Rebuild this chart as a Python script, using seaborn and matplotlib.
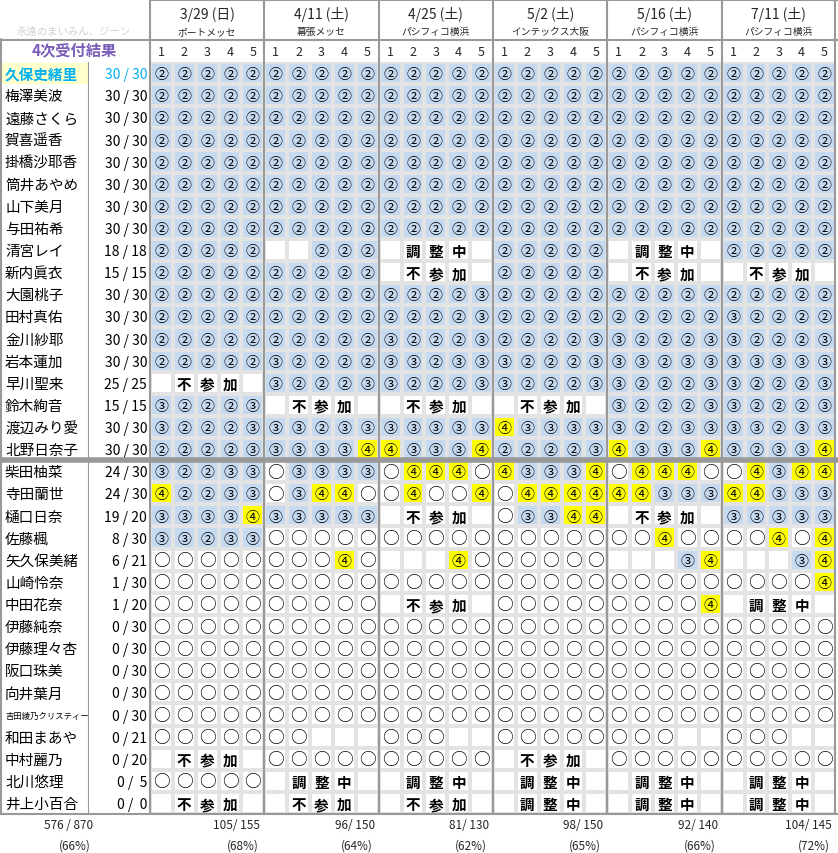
import matplotlib
matplotlib.use("Agg")
import matplotlib.pyplot as plt
import seaborn as sns
import numpy as np
from matplotlib.colors import ListedColormap
from matplotlib.lines import Line2D

sns.set_theme(style="white")
plt.rcParams['font.family'] = ['Noto Sans CJK JP', 'DejaVu Sans']

dates = ["3/29 (日)", "4/11 (土)", "4/25 (土)", "5/2 (土)", "5/16 (土)", "7/11 (土)"]
venues = ["ポートメッセ", "幕張メッセ", "パシフィコ横浜", "インテックス大阪", "パシフィコ横浜", "パシフィコ横浜"]
names = ["久保史緒里", "梅澤美波", "遠藤さくら", "賀喜遥香", "掛橋沙耶香", "筒井あやめ", "山下美月", "与田祐希",
         "清宮レイ", "新内眞衣", "大園桃子", "田村真佑", "金川紗耶", "岩本蓮加", "早川聖来", "鈴木絢音",
         "渡辺みり愛", "北野日奈子", "柴田柚菜", "寺田蘭世", "樋口日奈", "佐藤楓", "矢久保美緒", "山崎怜奈",
         "中田花奈", "伊藤純奈", "伊藤理々杏", "阪口珠美", "向井葉月", "吉田綾乃クリスティー", "和田まあや",
         "中村麗乃", "北川悠理", "井上小百合"]
counts = ["30 / 30"] * 8 + ["18 / 18", "15 / 15"] + ["30 / 30"] * 4 + ["25 / 25", "15 / 15", "30 / 30", "30 / 30",
          "24 / 30", "24 / 30", "19 / 20", "8 / 30", "6 / 21", "1 / 30", "1 / 20",
          "0 / 30", "0 / 30", "0 / 30", "0 / 30", "0 / 30", "0 / 21", "0 / 20", "0 /  5", "0 /  0"]
rows = ["222222222222222222222222222222"] * 8 + [
    "22222..222.DEF.22222.DEF.22222",
    "2222222222.ABC.22222.ABC..ABC.",
    "222222222222223222222222222222",
    "222222222222223222222222232222",
    "222222222232223222233222332223",
    "222223222233233322233323333333",
    ".ABC.32223322233222332223 32223".replace(" ", ""),
    "32223.ABC..ABC..ABC.3222332223",
    "322233323333333433333223333233",
    "222233333443334222234333432334",
    "32233o3333o444o43334o444oo4344",
    "42233o344oo4oo4o44444433344333",
    "3333433333.ABC.o3344.ABC.33333",
    "33233ooooooooooooooooo4oooo4o4",
    "oooooooo4o...4oooooo...34...34",
    "ooooooooooooooooooooooooooooo4",
    "oooooooooo.ABC.ooooooooo4.DEF.",
    "oooooooooooooooooooooooooooooo",
    "oooooooooooooooooooooooooooooo",
    "oooooooooooooooooooooooooooooo",
    "oooooooooooooooooooooooooooooo",
    "oooooooooooooooooooooooooooooo",
    "ooooooo...ooo..oooooooo..ooo..",
    ".ABC.oooooooooo.ABC.oooooooooo",
    "ooooo.DEF..DEF..DEF..DEF..DEF.",
    ".ABC..ABC..ABC..DEF..DEF..DEF.",
]
totals = ["576 / 870", "105/ 155", "96/ 150", "81/ 130", "98/ 150", "92/ 140", "104/ 145"]
pcts = ["(66%)", "(68%)", "(64%)", "(62%)", "(65%)", "(66%)", "(72%)"]

symbols = {"2": "②", "3": "③", "4": "④", "o": "○", ".": "", "A": "不", "B": "参", "C": "加", "D": "調", "E": "整", "F": "中"}
valmap = {"2": 1, "3": 1, "4": 2}
mat = np.array([[valmap.get(c, 0) for c in r] for r in rows])

W, H = 838, 854
fig = plt.figure(figsize=(W / 100, H / 100), dpi=100)
x0, x1, y0, y1 = 150, 836, 63, 815
ax = fig.add_axes([x0 / W, 1 - y1 / H, (x1 - x0) / W, (y1 - y0) / H])
cmap = ListedColormap(["white", "#c5d9f1", "#ffff00"])
sns.heatmap(mat, ax=ax, cmap=cmap, vmin=-0.5, vmax=2.5, cbar=False, linewidths=1.5, linecolor="#e3e3e3")
ax.set_xticks([]); ax.set_yticks([])
nrow = len(rows)
cw = (x1 - x0) / 30
rh = (y1 - y0) / nrow
for i, r in enumerate(rows):
    for j, c in enumerate(r):
        s = symbols[c]
        if not s:
            continue
        bold = c in "ABCDEF"
        ax.text(j + 0.5, i + 0.55, s, ha="center", va="center",
                fontsize=12 if c == "o" else (10.5 if bold else 10),
                fontweight="bold" if bold else "normal", color="black")

for i, (n, c) in enumerate(zip(names, counts)):
    col = "black"
    if i == 0:
        ax.add_patch(plt.Rectangle((-148 / cw, i + 0.05), 86 / cw, 0.9, color="#ffffcc", clip_on=False))
        col = "#00b0f0"
    fs = 6 if len(n) > 8 else 10.5
    ax.text(-145 / cw, i + 0.55, n, ha="left", va="center", fontsize=fs, color=col,
            fontweight="bold" if i == 0 else "normal", clip_on=False)
    ax.text(-3 / cw, i + 0.55, c, ha="right", va="center", fontsize=10, color=col, clip_on=False)

def fx(px): return px / W
def fy(py): return 1 - py / H
for g in range(6):
    cx = x0 + (g + 0.5) * 5 * cw
    fig.text(fx(cx), fy(15), dates[g], ha="center", va="center", fontsize=10)
    fig.text(fx(cx), fy(32), venues[g], ha="center", va="center", fontsize=7)
    for k in range(5):
        fig.text(fx(x0 + (g * 5 + k + 0.5) * cw), fy(52), str(k + 1), ha="center", va="center", fontsize=9)
    fig.text(fx(x0 + (g + 1) * 5 * cw - 4), fy(826), totals[g + 1], ha="right", va="center", fontsize=8.5)
    fig.text(fx(x0 + (g + 1) * 5 * cw - 22), fy(846), pcts[g + 1], ha="center", va="center", fontsize=8.5)
fig.text(fx(93), fy(826), totals[0], ha="right", va="center", fontsize=8.5)
fig.text(fx(75), fy(846), pcts[0], ha="center", va="center", fontsize=8.5)
fig.text(fx(74), fy(50), "4次受付結果", ha="center", va="center", fontsize=11, fontweight="bold", color="#7a5cb8")
fig.text(fx(74), fy(32), "永遠のまいみん、ジーン", ha="center", va="center", fontsize=7.5, color="#d0d0d0")

gray = "#999999"
def vline(px, ya, yb, lw):
    fig.add_artist(Line2D([fx(px), fx(px)], [fy(ya), fy(yb)], color=gray, lw=lw))
def hline(py, xa, xb, lw):
    fig.add_artist(Line2D([fx(xa), fx(xb)], [fy(py), fy(py)], color=gray, lw=lw))
for g in range(7):
    vline(x0 + g * 5 * cw - (1 if g == 6 else 0), 0, y1, 1.5)
vline(1, 40, y1, 1.5)
hline(41, 0, W, 1.5)
hline(y1, 0, W, 1.5)
hline(1, x0, W, 1.5)
hline(y0 + 18 * rh, 0, W, 4)
vline(88, y0, y1, 0.8)

fig.savefig("out.png", dpi=100, facecolor="white")
